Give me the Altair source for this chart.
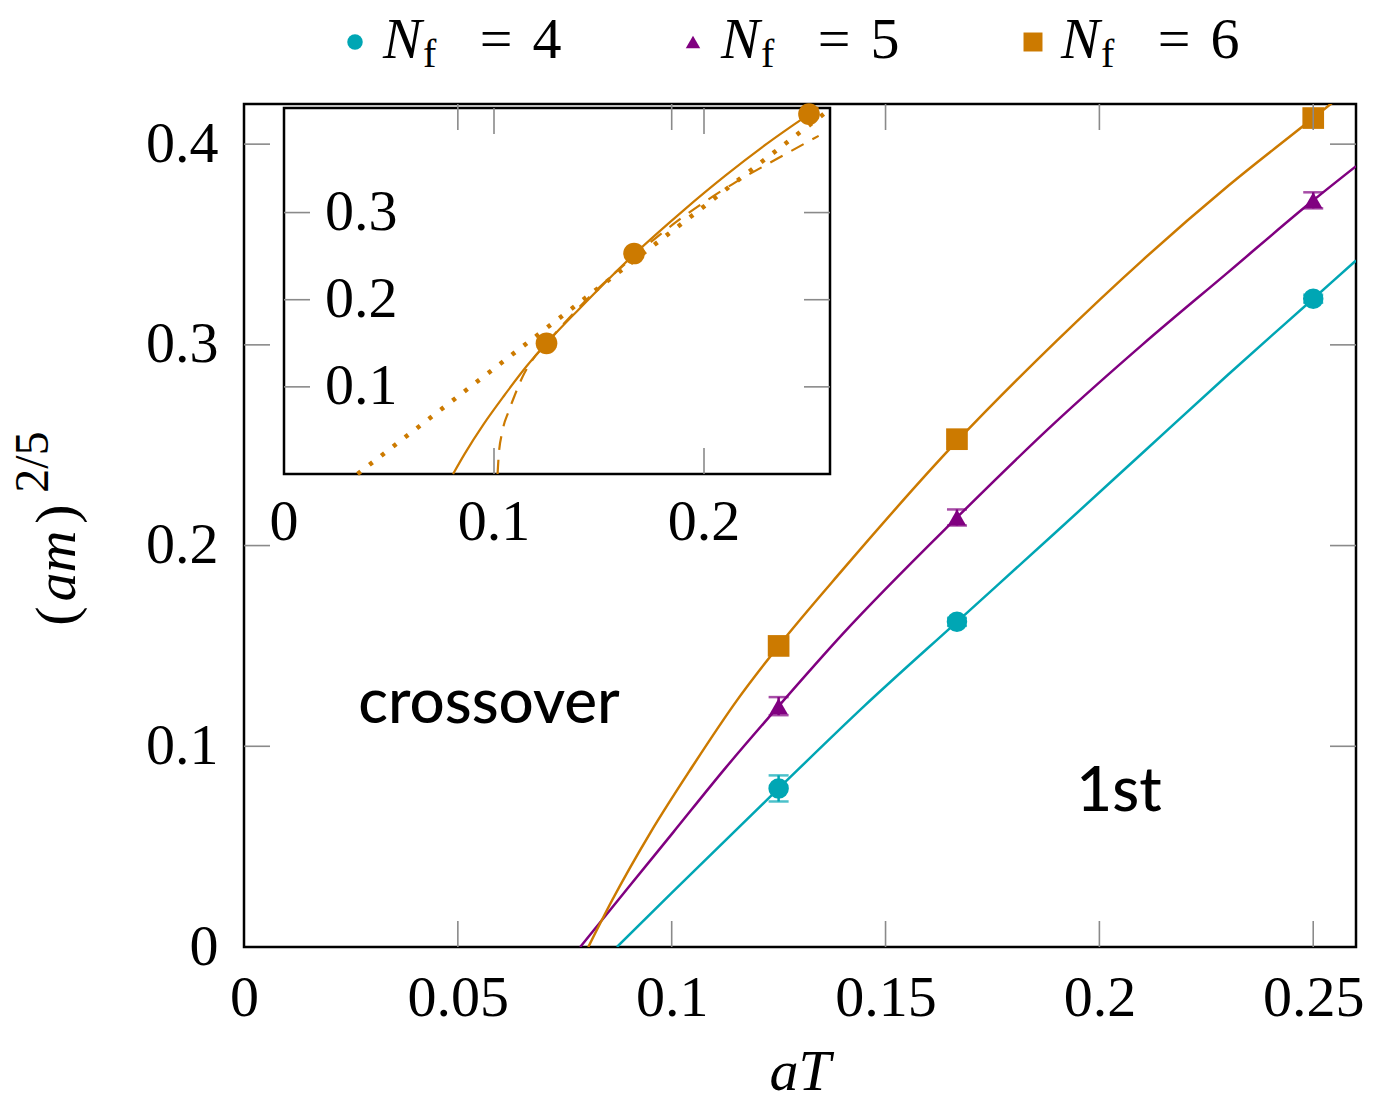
import altair as alt
import pandas as pd

# ---------------- data ----------------
aT = [0.125, 0.1667, 0.25]
am_nf4 = [0.079, 0.162, 0.323]
am_nf5 = [0.120, 0.214, 0.372]
am_nf6 = [0.150, 0.253, 0.413]
err_nf4 = [0.0065, 0.002, 0.002]
err_nf5 = [0.0045, 0.004, 0.004]
err_nf6 = [0.002, 0.002, 0.002]

fit4_x = [0.0872, 0.10, 0.125, 0.145, 0.1667, 0.19, 0.21, 0.23, 0.25, 0.26]
fit4_y = [0.0, 0.027, 0.079, 0.120, 0.162, 0.207, 0.246, 0.285, 0.323, 0.342]
fit5_x = [0.0786, 0.09, 0.1003, 0.1125, 0.125, 0.14, 0.1667, 0.19, 0.21, 0.23, 0.25, 0.26]
fit5_y = [0.0, 0.030, 0.057, 0.089, 0.120, 0.156, 0.214, 0.262, 0.300, 0.336, 0.372, 0.389]
fit6_x = [0.0805, 0.0861, 0.095, 0.1048, 0.1153, 0.125, 0.14, 0.1667, 0.19, 0.21, 0.23, 0.25, 0.2545]
fit6_y = [0.0, 0.0234, 0.0569, 0.0898, 0.123, 0.150, 0.188, 0.252, 0.302, 0.342, 0.379, 0.413, 0.4207]

# inset: alternative fits for N_f = 6
dash6_x = [0.1017, 0.1022, 0.104, 0.107, 0.11, 0.1135, 0.118, 0.125, 0.14, 0.1667, 0.19, 0.2138, 0.235, 0.2546]
dash6_y = [0.0, 0.02, 0.049, 0.072, 0.091, 0.111, 0.130, 0.150, 0.190, 0.250, 0.295, 0.333, 0.362, 0.388]
dot6_x = [0.035, 0.258]
dot6_y = [0.0, 0.415]

legend_labels = ["4", "5", "6"]
main_xticks = [0, 0.05, 0.1, 0.15, 0.2, 0.25]
main_yticks = [0, 0.1, 0.2, 0.3, 0.4]
inset_xticks = [0, 0.1, 0.2]
inset_yticks = [0.1, 0.2, 0.3]

# ---------------- styling / layout ----------------
W, H = 1112, 843
SERIF = "Liberation Serif"
SANS = "Lato"
FS = 58
TICK = 26
C4, C5, C6 = "#00A6B4", "#800080", "#CC7A00"
GRAY = "#8a8a8a"

mx = alt.Scale(domain=[0, 0.26], nice=False, zero=False)
my = alt.Scale(domain=[0, 0.42], nice=False, zero=False)
ax_x = alt.Axis(orient="bottom", values=main_xticks, format="~g", ticks=False, tickSize=0,
                domain=False, grid=False, labelPadding=22, labelFlush=False,
                labelFont=SERIF, labelFontSize=FS, labelColor="black")
ax_y = alt.Axis(orient="left", values=main_yticks, format="~g", ticks=False, tickSize=0,
                domain=False, grid=False, labelPadding=26,
                labelFont=SERIF, labelFontSize=FS, labelColor="black")


def MX(f):
    return alt.X(f, type="quantitative", scale=mx, axis=ax_x, title=None)


def MY(f):
    return alt.Y(f, type="quantitative", scale=my, axis=ax_y, title=None)


# inset scales: same domain, mapped to the inset box (pixels inside plot area)
IX0, IX1, IY0, IY1 = 40, 586, 4, 370
isx = alt.Scale(domain=[0, 0.26], range=[IX0, IX1], nice=False, zero=False)
isy = alt.Scale(domain=[0, 0.42], range=[IY1, IY0], nice=False, zero=False)


def IX(f):
    return alt.X(f, type="quantitative", scale=isx, axis=None, title=None)


def IY(f):
    return alt.Y(f, type="quantitative", scale=isy, axis=None, title=None)


def txt(text, x, y, size=FS, font=SERIF, style="normal", angle=0, align="center",
        baseline="middle", weight="normal"):
    return alt.Chart(pd.DataFrame({"t": [text]})).mark_text(
        font=font, fontSize=size, fontStyle=style, fontWeight=weight, angle=angle, align=align,
        baseline=baseline, color="black").encode(x=alt.value(x), y=alt.value(y), text="t:N")


# ---------------- main plot ----------------
main_layers = []

series = [
    (am_nf4, err_nf4, fit4_x, fit4_y, C4, "circle", 420),
    (am_nf5, err_nf5, fit5_x, fit5_y, C5, "triangle-up", 340),
    (am_nf6, err_nf6, fit6_x, fit6_y, C6, "square", 470),
]
for ys, es, fx, fy, col, shp, sz in series:
    dfit = pd.DataFrame({"x": fx, "y": fy})
    dpt = pd.DataFrame({"x": aT, "y": ys,
                        "lo": [a - b for a, b in zip(ys, es)],
                        "hi": [a + b for a, b in zip(ys, es)]})
    main_layers.append(alt.Chart(dfit).mark_line(color=col, strokeWidth=2.5, clip=True,
                                                 interpolate="monotone").encode(x=MX("x"), y=MY("y")))
    main_layers.append(alt.Chart(dpt).mark_rule(color=col, strokeWidth=2.5).encode(
        x=MX("x"), y=MY("lo"), y2="hi"))
    for f in ("lo", "hi"):
        main_layers.append(alt.Chart(dpt).mark_tick(orient="horizontal", size=20, thickness=2.5,
                                                    color=col).encode(x=MX("x"), y=MY(f)))
    main_layers.append(alt.Chart(dpt).mark_point(shape=shp, filled=True, size=sz, opacity=1,
                                                 color=col).encode(x=MX("x"), y=MY("y")))

# inward ticks on all four sides
dxt = pd.DataFrame({"v": [v for v in main_xticks if v > 0]})
dyt = pd.DataFrame({"v": [v for v in main_yticks if v > 0]})
tick_style = dict(color=GRAY, strokeWidth=1.6)
main_layers += [
    alt.Chart(dxt).mark_rule(**tick_style).encode(x=MX("v"), y=alt.value(H), y2=alt.value(H - TICK)),
    alt.Chart(dxt).mark_rule(**tick_style).encode(x=MX("v"), y=alt.value(0), y2=alt.value(TICK)),
    alt.Chart(dyt).mark_rule(**tick_style).encode(y=MY("v"), x=alt.value(0), x2=alt.value(TICK)),
    alt.Chart(dyt).mark_rule(**tick_style).encode(y=MY("v"), x=alt.value(W - TICK), x2=alt.value(W)),
]

# annotations
main_layers += [
    txt("crossover", 245, 600, size=62, font=SANS, weight=500),
    txt("1st", 875, 688, size=62, font=SANS, weight=500),
    txt("aT", 556, 986, style="italic", baseline="alphabetic"),
    # y-axis title (am)^{2/5}
    txt("(", -186, 512, angle=270),
    txt("am", -186, 462, style="italic", angle=270),
    txt(")", -186, 410, angle=270),
    txt("2/5", -210, 358, size=48, angle=270),
]

# legend
leg_shapes = ["circle", "triangle-up", "square"]
leg_colors = [C4, C5, C6]
leg_sizes = [240, 210, 360]
leg_x0 = [111, 449, 789]
for lab, shp, col, sz, x0 in zip(legend_labels, leg_shapes, leg_colors, leg_sizes, leg_x0):
    main_layers.append(alt.Chart(pd.DataFrame({"t": [lab]})).mark_point(
        shape=shp, filled=True, size=sz, opacity=1, color=col).encode(
        x=alt.value(x0), y=alt.value(-62)))
    main_layers += [
        txt("N", x0 + 28, -46, style="italic", align="left", baseline="alphabetic"),
        txt("f", x0 + 68, -37, size=40, align="left", baseline="alphabetic"),
        txt("=", x0 + 141, -46, baseline="alphabetic"),
        txt(lab, x0 + 192, -46, baseline="alphabetic"),
    ]

main = alt.layer(*main_layers)

# ---------------- inset ----------------
d6 = pd.DataFrame({"x": aT, "y": am_nf6})
inset_layers = [
    alt.Chart(pd.DataFrame({"a": [0]})).mark_rect(fill="white", stroke="black", strokeWidth=2.5).encode(
        x=alt.value(IX0), x2=alt.value(IX1), y=alt.value(IY0), y2=alt.value(IY1)),
]
dixt = pd.DataFrame({"v": [v for v in inset_xticks if v > 0]})
diyt = pd.DataFrame({"v": inset_yticks})
inset_layers += [
    alt.Chart(dixt).mark_rule(**tick_style).encode(x=IX("v"), y=alt.value(IY1), y2=alt.value(IY1 - TICK)),
    alt.Chart(dixt).mark_rule(**tick_style).encode(x=IX("v"), y=alt.value(IY0), y2=alt.value(IY0 + TICK)),
    alt.Chart(diyt).mark_rule(**tick_style).encode(y=IY("v"), x=alt.value(IX0), x2=alt.value(IX0 + TICK)),
    alt.Chart(diyt).mark_rule(**tick_style).encode(y=IY("v"), x=alt.value(IX1 - TICK), x2=alt.value(IX1)),
    alt.Chart(pd.DataFrame({"v": inset_xticks, "t": [f"{v:g}" for v in inset_xticks]})).mark_text(
        font=SERIF, fontSize=FS, baseline="top", color="black").encode(
        x=IX("v"), y=alt.value(IY1 + 20), text="t:N"),
    alt.Chart(pd.DataFrame({"v": inset_yticks, "t": [f"{v:g}" for v in inset_yticks]})).mark_text(
        font=SERIF, fontSize=FS, align="left", baseline="middle", color="black").encode(
        y=IY("v"), x=alt.value(IX0 + 41), text="t:N"),
    alt.Chart(pd.DataFrame({"x": fit6_x, "y": fit6_y})).mark_line(
        color=C6, strokeWidth=2.2, interpolate="monotone").encode(x=IX("x"), y=IY("y")),
    alt.Chart(pd.DataFrame({"x": dash6_x, "y": dash6_y})).mark_line(
        color=C6, strokeWidth=2.2, strokeDash=[14, 10], interpolate="monotone").encode(x=IX("x"), y=IY("y")),
    alt.Chart(pd.DataFrame({"x": dot6_x, "y": dot6_y})).mark_line(
        color=C6, strokeWidth=4.5, strokeDash=[4, 11]).encode(x=IX("x"), y=IY("y")),
    alt.Chart(d6).mark_point(shape="circle", filled=True, size=470, opacity=1, color=C6).encode(
        x=IX("x"), y=IY("y")),
]
inset = alt.layer(*inset_layers)

chart = alt.layer(inset, main).resolve_scale(x="independent", y="independent").properties(
    width=W, height=H,
    autosize=alt.AutoSizeParams(type="none"),
    padding={"left": 236, "top": 96, "right": 8, "bottom": 147},
).configure_view(stroke="black", strokeWidth=2.5)

chart.save("out.html", embed_options={"renderer": "svg", "actions": False})
